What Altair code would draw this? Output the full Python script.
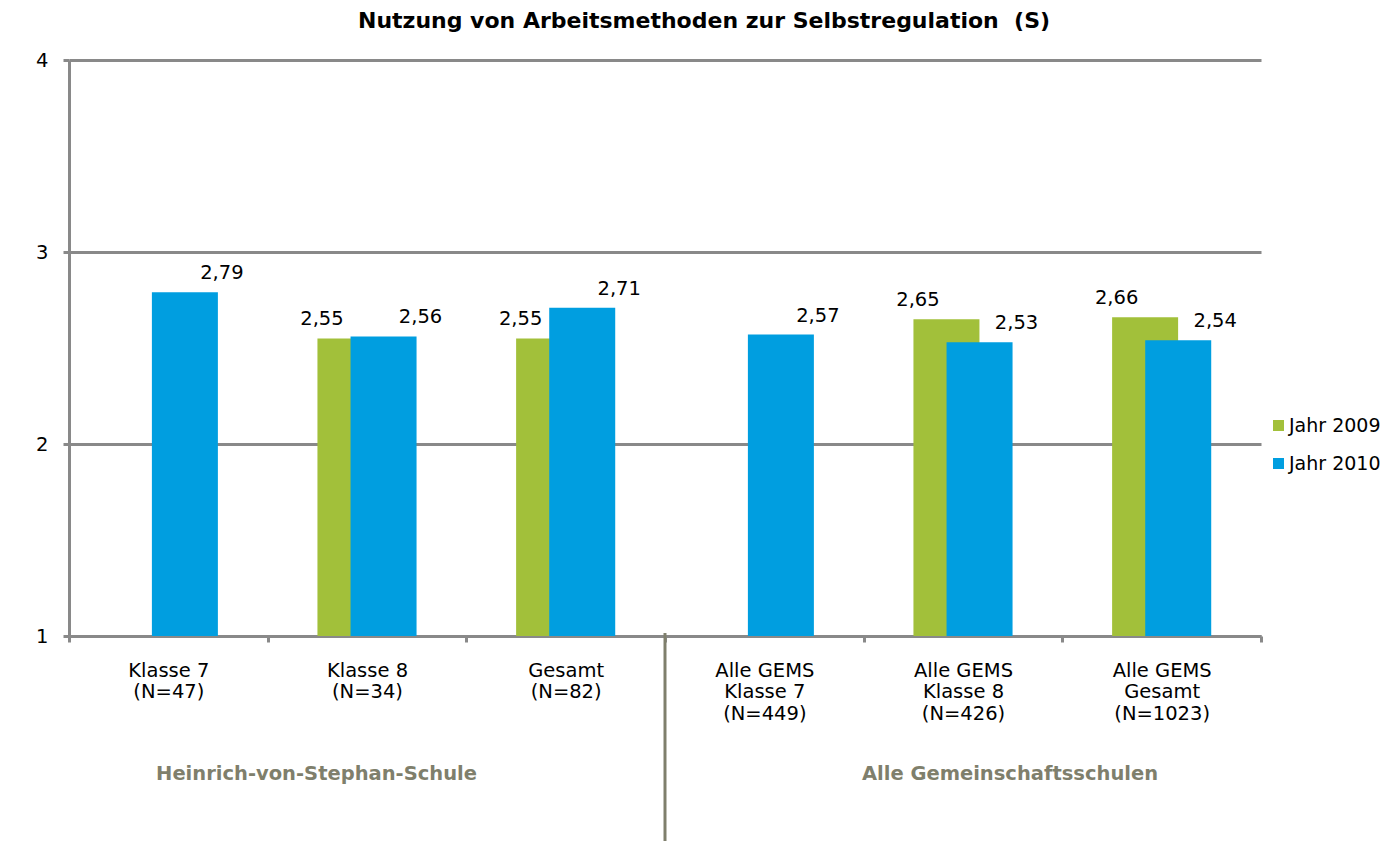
import altair as alt
import pandas as pd

# ---- data ----
categories = [
    "Klasse 7\n(N=47)",
    "Klasse 8\n(N=34)",
    "Gesamt\n(N=82)",
    "Alle GEMS\nKlasse 7\n(N=449)",
    "Alle GEMS\nKlasse 8\n(N=426)",
    "Alle GEMS\nGesamt\n(N=1023)",
]
values_2009 = [None, 2.55, 2.55, None, 2.65, 2.66]
values_2010 = [2.79, 2.56, 2.71, 2.57, 2.53, 2.54]
years = ["Jahr 2009", "Jahr 2010"]
year_colors = ["#A2C03A", "#009EE0"]
group_names = ["Heinrich-von-Stephan-Schule", "Alle Gemeinschaftsschulen"]
group_anchor = [categories[1], categories[4]]
y_ticks = [1, 2, 3, 4]
title_text = "Nutzung von Arbeitsmethoden zur Selbstregulation \u00a0(S)"

rows = []
for yr, vals in zip(years, [values_2009, values_2010]):
    for c, v in zip(categories, vals):
        if v is not None:
            rows.append({"cat": c, "year": yr, "value": v})
df = pd.DataFrame(rows)

W, H = 1192, 576
FONT = "DejaVu Sans"
GREY = "#898989"
GROUP_GREY = "#7F7F6C"
FS = 19.5

# offset band domain: two empty slots on each side so the two year bands sit
# close to the category centre (bars are drawn 2 slots wide -> 50 % overlap)
offset_domain = ["_l1", "_l2"] + years + ["_r1", "_r2"]

x_scale = alt.Scale(domain=categories, paddingInner=0, paddingOuter=0)
x_axis = alt.Axis(
    title=None, labelAngle=0, labelExpr="split(datum.label, '\\n')",
    labelFont=FONT, labelFontSize=FS, labelColor="black", labelLineHeight=21.5,
    labelBaseline="top", labelPadding=19, tickBand="extent", tickSize=6,
    tickWidth=3, tickColor=GREY, domainColor=GREY, domainWidth=3, grid=False,
)
x_enc = alt.X("cat:N", sort=categories, scale=x_scale, axis=x_axis)
xoff = alt.XOffset("year:N", scale=alt.Scale(domain=offset_domain, paddingInner=0, paddingOuter=0))
y_enc = alt.Y(
    "value:Q",
    scale=alt.Scale(domain=[1, 4], nice=False, zero=False),
    axis=alt.Axis(
        title=None, values=y_ticks, format="d", labelFont=FONT, labelFontSize=FS,
        labelColor="black", labelPadding=15, tickSize=6, tickWidth=3, tickColor=GREY,
        domainColor=GREY, domainWidth=3, gridColor=GREY, gridWidth=3,
    ),
)

bars = alt.Chart(df).mark_bar(width=66).encode(
    x=x_enc,
    xOffset=xoff,
    y=y_enc,
    y2=alt.datum(1),
    color=alt.Color(
        "year:N",
        scale=alt.Scale(domain=years, range=year_colors),
        legend=alt.Legend(
            title=None, orient="none", legendX=1200, legendY=356,
            symbolType="square", symbolSize=121, symbolStrokeWidth=0,
            labelFont=FONT, labelFontSize=19, labelColor="black",
            rowPadding=18, labelOffset=1,
        ),
    ),
    order=alt.Order("year:N"),
)

lab_base = alt.Chart(df).transform_calculate(
    lab="replace(format(datum.value, '.2f'), '.', ',')"
)
text09 = lab_base.transform_filter(alt.datum.year == years[0]).mark_text(
    dx=-28.5, dy=-13, baseline="alphabetic", align="center",
    font=FONT, fontSize=FS, color="black",
).encode(x=x_enc, xOffset=xoff, y=y_enc, text="lab:N")
text10 = lab_base.transform_filter(alt.datum.year == years[1]).mark_text(
    dx=37, dy=-13, baseline="alphabetic", align="center",
    font=FONT, fontSize=FS, color="black",
).encode(x=x_enc, xOffset=xoff, y=y_enc, text="lab:N")

gdf = pd.DataFrame({"cat": group_anchor, "name": group_names})
g1 = alt.Chart(gdf).transform_filter(alt.datum.name == group_names[0]).mark_text(
    dx=-50.5, baseline="alphabetic", align="center", font=FONT, fontSize=19.5,
    fontWeight="bold", color=GROUP_GREY,
).encode(x=x_enc, y=alt.value(H + 144), text="name:N")
g2 = alt.Chart(gdf).transform_filter(alt.datum.name == group_names[1]).mark_text(
    dx=47, baseline="alphabetic", align="center", font=FONT, fontSize=19.5,
    fontWeight="bold", color=GROUP_GREY,
).encode(x=x_enc, y=alt.value(H + 144), text="name:N")

sep = alt.Chart(pd.DataFrame({"cat": [categories[3]]})).mark_rule(
    color=GROUP_GREY, strokeWidth=3
).encode(
    x=alt.X("cat:N", sort=categories, scale=x_scale, axis=x_axis, bandPosition=0),
    y=alt.value(H - 3),
    y2=alt.value(H + 215),
)

title = alt.Chart(pd.DataFrame({"t": [title_text]})).mark_text(
    baseline="alphabetic", align="center", font=FONT, fontSize=22,
    fontWeight="bold", color="black",
).encode(x=alt.value(W / 2 + 39), y=alt.value(-32), text="t:N")

chart = alt.layer(bars, text09, text10, g1, g2, sep, title).properties(
    width=W,
    height=H,
    autosize=alt.AutoSizeParams(type="none"),
    padding={"left": 61, "top": 52, "right": 119, "bottom": 205},
).configure_view(stroke=None)

chart.save("out.html", embed_options={"renderer": "svg", "actions": False})
